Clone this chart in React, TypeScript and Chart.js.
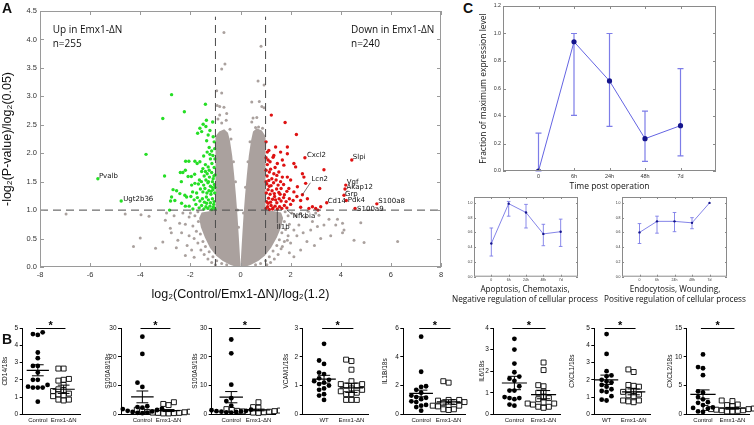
import React, { useEffect, useRef } from 'react';
import { Chart, registerables } from 'chart.js';

Chart.register(...registerables);
Chart.defaults.font.family = '"Liberation Sans", Arial, sans-serif';
Chart.defaults.color = '#222';

type Pt = [number, number];

// ================= Panel A : volcano plot =================
const A_X_TICKS = [-8, -6, -4, -2, 0, 2, 4, 6, 8];
const A_Y_TICKS = [0, 0.5, 1, 1.5, 2, 2.5, 3, 3.5, 4, 4.5];
const FC_CUT = 1;
const P_CUT = 1;
const DASH_TOP = 4.4;

// envelope of the dense, non-significant cloud
const CLOUD_LEFT: Pt[] = [
  [0, 0.02], [-0.03, 0.25], [-0.07, 0.55], [-0.12, 0.9], [-0.18, 1.25], [-0.25, 1.6], [-0.33, 1.95],
  [-0.42, 2.22], [-0.5, 2.36], [-0.65, 2.42], [-0.85, 2.38], [-1.0, 2.3], [-1.0, 1.0], [-1.25, 0.98],
  [-1.55, 0.96], [-1.65, 0.86], [-1.58, 0.7], [-1.42, 0.52], [-1.22, 0.34], [-0.98, 0.2], [-0.72, 0.11],
  [-0.42, 0.04], [-0.15, 0.0],
];
const CLOUD_RIGHT: Pt[] = [
  [0.15, 0.0], [0.42, 0.04], [0.72, 0.11], [0.98, 0.2], [1.22, 0.34], [1.45, 0.52], [1.62, 0.7],
  [1.7, 0.86], [1.62, 0.96], [1.35, 0.98], [1.0, 1.0], [1.0, 2.3], [0.85, 2.4], [0.65, 2.44],
  [0.5, 2.38], [0.42, 2.22], [0.33, 1.95], [0.25, 1.6], [0.18, 1.25], [0.12, 0.9], [0.07, 0.55],
  [0.03, 0.25], [0, 0.02],
];

const VOLCANO_GREY: Pt[] = [
  [-0.66, 4.12], [-0.62, 3.57], [-0.75, 3.48], [-0.95, 3.1], [-0.75, 3.06], [-0.93, 2.84], [-0.83, 2.82],
  [-0.66, 2.81], [-0.83, 2.67], [-0.57, 2.58], [-0.75, 2.53], [-0.42, 2.42], [-0.9, 2.6], [-0.55, 2.7],
  [0.7, 3.27], [0.94, 3.2], [0.82, 3.88], [0.45, 2.9], [0.75, 2.91], [0.85, 2.82], [0.94, 2.8],
  [0.5, 2.62], [0.65, 2.63], [0.45, 2.55], [0.6, 2.45], [0.72, 2.46], [0.88, 2.44],
  [-1.7, 0.97], [-1.82, 0.9], [-1.68, 0.8], [-1.9, 0.72], [-1.76, 0.63], [-1.6, 0.58], [-1.85, 0.5],
  [-1.5, 0.45], [-1.7, 0.42], [-1.4, 0.36], [-1.58, 0.3], [-1.25, 0.27], [-1.45, 0.22], [-1.1, 0.18],
  [-1.3, 0.14], [-0.95, 0.11], [-1.15, 0.08], [-0.75, 0.06], [-0.55, 0.04], [-1.0, 0.04],
  [-2.65, 0.9], [-2.43, 0.77], [-2.8, 0.68], [-2.76, 0.6], [-2.5, 0.47], [-2.56, 0.34], [-2.13, 0.38],
  [-2.2, 0.2], [-1.85, 0.17], [-2.05, 0.55], [-2.2, 0.75], [-2.05, 0.88], [-2.3, 0.95], [-1.95, 0.3],
  [-2.35, 0.6], [-2.0, 0.95],
  [-6.96, 0.93], [-4.6, 0.93], [-3.97, 0.92], [-3.65, 0.89], [-4.0, 0.51], [-4.27, 0.36], [-3.39, 0.33],
  [-3.1, 0.44], [-3.0, 0.82], [-2.95, 0.95],
  [-0.2, 1.5], [-0.28, 1.85], [-0.12, 1.0], [-0.08, 0.7], [0.12, 0.95], [0.2, 1.4], [0.3, 1.85],
  [0.38, 2.2], [-0.38, 2.25],
  [1.78, 0.97], [1.9, 0.9], [1.75, 0.8], [1.95, 0.75], [1.8, 0.66], [1.65, 0.6], [1.9, 0.55],
  [1.55, 0.48], [1.75, 0.45], [1.45, 0.38], [1.62, 0.32], [1.3, 0.28], [1.5, 0.22], [1.15, 0.18],
  [1.35, 0.14], [1.0, 0.11], [1.2, 0.08], [0.8, 0.06], [0.6, 0.04], [1.05, 0.04],
  [2.4, 0.94], [2.6, 0.88], [2.87, 0.8], [3.13, 0.91], [3.53, 0.84], [3.87, 0.84], [4.07, 0.77],
  [3.8, 0.74], [4.13, 0.65], [4.07, 0.6], [3.07, 0.71], [3.33, 0.74], [3.2, 0.5], [2.8, 0.65],
  [2.33, 0.74], [2.13, 0.65], [2.13, 0.18], [4.8, 0.78], [4.53, 0.47], [4.93, 0.43], [6.27, 0.45],
  [1.87, 0.47], [1.67, 0.36], [2.0, 0.42], [2.2, 0.9], [2.05, 0.95], [2.25, 0.55], [2.5, 0.6],
  [2.65, 0.45], [2.95, 0.38], [2.4, 0.3], [1.95, 0.25], [3.6, 0.55], [3.0, 0.95], [2.7, 0.98],
];

const VOLCANO_GREEN: Pt[] = [
  [-1.02, 1.02], [-1.08, 1.05], [-1.15, 1.01], [-1.22, 1.07], [-1.3, 1.03], [-1.38, 1.06], [-1.46, 1.02],
  [-1.55, 1.08], [-1.65, 1.04], [-1.78, 1.1], [-1.9, 1.02], [-2.05, 1.07], [-2.2, 1.07], [-2.35, 1.12],
  [-2.83, 1.0], [-1.05, 1.15], [-1.12, 1.2], [-1.2, 1.13], [-1.28, 1.18], [-1.36, 1.23], [-1.44, 1.14],
  [-1.52, 1.2], [-1.62, 1.16], [-1.72, 1.22], [-1.85, 1.18], [-1.98, 1.24], [-2.15, 1.23], [-2.62, 1.17],
  [-2.79, 1.16], [-2.75, 1.23], [-1.03, 1.3], [-1.1, 1.36], [-1.18, 1.28], [-1.26, 1.34], [-1.34, 1.3],
  [-1.42, 1.38], [-1.5, 1.32], [-1.6, 1.37], [-1.75, 1.3], [-1.91, 1.32], [-2.22, 1.26], [-2.42, 1.29],
  [-2.55, 1.34], [-2.69, 1.36], [-1.04, 1.45], [-1.12, 1.5], [-1.2, 1.42], [-1.3, 1.48], [-1.38, 1.53],
  [-1.47, 1.44], [-1.56, 1.5], [-1.68, 1.46], [-1.82, 1.47], [-1.95, 1.44], [-2.36, 1.5], [-1.64, 1.53],
  [-1.06, 1.6], [-1.15, 1.66], [-1.24, 1.58], [-1.33, 1.64], [-1.45, 1.6], [-1.55, 1.68], [-1.83, 1.63],
  [-1.96, 1.59], [-2.09, 1.59], [-2.3, 1.66], [-2.4, 1.66], [-2.2, 1.7], [-3.03, 1.6], [-1.05, 1.75],
  [-1.14, 1.82], [-1.29, 1.76], [-1.4, 1.8], [-1.5, 1.73], [-1.62, 1.85], [-1.73, 1.82], [-1.82, 1.86],
  [-2.06, 1.86], [-2.19, 1.86], [-1.2, 1.9], [-1.03, 2.08], [-1.15, 2.04], [-1.33, 2.02], [-1.47, 1.95],
  [-1.1, 1.96], [-1.25, 2.1], [-3.77, 1.98], [-1.05, 2.2], [-1.09, 2.29], [-1.29, 2.32], [-1.55, 2.38],
  [-1.71, 2.35], [-1.62, 2.44], [-1.49, 2.51], [-1.36, 2.58], [-1.38, 2.47], [-1.22, 2.4], [-1.11, 2.55],
  [-1.4, 2.86], [-2.24, 2.73], [-2.75, 3.03], [-3.1, 2.61], [-1.35, 2.22], [-5.69, 1.55], [-4.76, 1.16],
  [-1.07, 1.1], [-1.17, 1.33], [-1.09, 1.55], [-1.25, 1.7], [-1.13, 1.4], [-1.35, 1.12], [-1.02, 1.9],
  [-1.22, 1.98], [-1.4, 1.68], [-1.01, 1.62], [-1.28, 1.5], [-1.02, 1.4],
];

const VOLCANO_RED: Pt[] = [
  [1.02, 1.03], [1.08, 1.06], [1.15, 1.01], [1.22, 1.08], [1.3, 1.04], [1.38, 1.07], [1.47, 1.02],
  [1.56, 1.06], [1.65, 1.03], [1.75, 1.08], [1.85, 1.04], [2.0, 1.1], [2.4, 1.05], [2.73, 1.03],
  [2.87, 1.06], [3.0, 1.03], [3.09, 1.0], [3.2, 1.06], [1.04, 1.15], [1.12, 1.21], [1.2, 1.14],
  [1.28, 1.19], [1.36, 1.24], [1.45, 1.13], [1.54, 1.2], [1.62, 1.16], [1.72, 1.22], [1.82, 1.15],
  [1.95, 1.2], [2.1, 1.17], [2.4, 1.17], [2.67, 1.2], [2.25, 1.24], [1.03, 1.3], [1.1, 1.36],
  [1.18, 1.28], [1.26, 1.34], [1.35, 1.29], [1.44, 1.37], [1.53, 1.31], [1.62, 1.38], [1.75, 1.27],
  [1.85, 1.33], [1.93, 1.38], [2.13, 1.32], [3.16, 1.38], [1.05, 1.46], [1.13, 1.52], [1.22, 1.43],
  [1.32, 1.48], [1.42, 1.53], [1.5, 1.44], [1.6, 1.5], [1.72, 1.45], [2.0, 1.53], [2.27, 1.41],
  [2.6, 1.47], [1.87, 1.58], [1.06, 1.6], [1.15, 1.67], [1.2, 1.72], [1.33, 1.64], [1.45, 1.61],
  [1.53, 1.67], [1.67, 1.58], [2.47, 1.64], [2.53, 1.58], [2.2, 1.76], [3.33, 1.71], [1.07, 1.8],
  [1.18, 1.85], [1.3, 1.93], [1.47, 1.82], [1.73, 1.79], [1.67, 1.88], [2.13, 1.82], [1.33, 1.96],
  [1.87, 1.99], [1.02, 1.92], [1.13, 2.05], [1.07, 2.02], [1.4, 2.11], [1.87, 2.11], [1.6, 2.02],
  [2.23, 2.33], [1.02, 2.2], [1.78, 2.54], [1.23, 2.67], [2.57, 1.92], [4.44, 1.88], [2.47, 1.27],
  [4.2, 1.44], [4.17, 1.37], [4.13, 1.26], [3.44, 1.13], [4.22, 1.17], [5.44, 1.11], [4.57, 1.03],
  [1.1, 1.12], [1.25, 1.55], [1.02, 1.5], [1.15, 1.42], [1.38, 1.75], [1.02, 1.7], [1.28, 1.02],
  [1.4, 1.18], [1.58, 1.28], [1.1, 1.88],
];

const GENE_NAMES = ['Pvalb', 'Ugt2b36', 'Cxcl2', 'Slpi', 'Lcn2', 'Vgf', 'Akap12', 'Grp', 'Cd14', 'Pdk4', 'S100a8', 'S100a9', 'Nfkbia', 'Il1b'];
const GENE_X = [-5.69, -4.76, 2.57, 4.44, 2.47, 4.2, 4.17, 4.13, 3.44, 4.22, 5.44, 4.57, 1.85, 1.47];
const GENE_Y = [1.55, 1.16, 1.92, 1.88, 1.27, 1.44, 1.37, 1.26, 1.13, 1.17, 1.11, 1.03, 1.0, 1.0];

// ================= Panel C : time course =================
const TIME_LABELS = ['0', '6h', '24h', '48h', '7d'];
const C_MAIN_YTICKS = [0, 0.2, 0.4, 0.6, 0.8, 1.0, 1.2];
const C_SMALL_YTICKS = [0, 0.2, 0.4, 0.6, 0.8, 1.0];
const C_MAIN_MEAN = [0.0, 0.94, 0.655, 0.235, 0.33];
const C_MAIN_LOW = [0.0, 0.405, 0.325, 0.07, 0.11];
const C_MAIN_HIGH = [0.275, 1.0, 1.0, 0.435, 0.745];
const C_LEFT_MEAN = [0.45, 0.99, 0.87, 0.58, 0.61];
const C_LEFT_LOW = [0.28, 0.82, 0.66, 0.42, 0.41];
const C_LEFT_HIGH = [0.66, 1.02, 0.98, 0.71, 0.78];
const C_RIGHT_MEAN = [0.6, 0.75, 0.75, 0.73, 1.0];
const C_RIGHT_LOW = [0.45, 0.59, 0.61, 0.65, 1.0];
const C_RIGHT_HIGH = [0.72, 0.82, 0.87, 0.8, 1.0];

// ================= Panel B : qPCR dot plots =================
const B_TITLES = ['CD14/18s', 'S100A8/18s', 'S100A9/18s', 'VCAM1/18s', 'IL1B/18s', 'IL6/18s', 'CXCL1/18s', 'CXCL2/18s'];
const B_GROUP_A = ['Control', 'Control', 'Control', 'WT', 'Control', 'Control', 'WT', 'Control'];
const B_GROUP_B = ['Emx1-ΔN', 'Emx1-ΔN', 'Emx1-ΔN', 'Emx1-ΔN', 'Emx1-ΔN', 'Emx1-ΔN', 'Emx1-ΔN', 'Emx1-ΔN'];
const B_YTICKS = [
  [0, 1, 2, 3, 4, 5], [0, 10, 20, 30], [0, 10, 20, 30], [0, 1, 2, 3],
  [0, 2, 4, 6], [0, 1, 2, 3, 4], [0, 1, 2, 3, 4, 5], [0, 5, 10, 15],
];
const CD14_CTRL = [4.75, 4.65, 4.6, 3.58, 3.25, 2.8, 2.8, 2.42, 2.0, 2.0, 1.7, 1.6, 1.55, 1.55, 1.55, 0.73];
const CD14_EMX = [2.65, 2.65, 2.05, 2.0, 1.95, 1.7, 1.45, 1.4, 1.35, 1.2, 1.15, 1.1, 1.05, 0.85, 0.85, 0.8];
const S100A8_CTRL = [27.0, 21.0, 11.0, 9.5, 2.8, 2.5, 2.3, 2.0, 1.8, 1.5, 1.2, 1.0, 0.8, 0.6, 0.5, 0.4];
const S100A8_EMX = [4.2, 3.6, 3.2, 2.0, 1.6, 1.3, 1.1, 0.9, 0.8, 0.7, 0.6, 0.5, 0.5, 0.4, 0.3, 0.3];
const S100A9_CTRL = [26.0, 21.2, 10.3, 5.6, 4.6, 3.0, 2.0, 1.6, 1.4, 1.2, 1.1, 1.0, 0.9, 0.8, 0.7, 0.6];
const S100A9_EMX = [4.2, 2.5, 2.3, 2.0, 1.8, 1.6, 1.5, 1.3, 1.2, 1.1, 1.0, 0.9, 0.8, 0.7, 0.6, 0.5];
const VCAM1_WT = [2.45, 1.87, 1.75, 1.45, 1.4, 1.25, 1.2, 1.15, 1.1, 1.05, 1.0, 0.9, 0.85, 0.7, 0.65, 0.5];
const VCAM1_EMX = [1.9, 1.85, 1.55, 1.15, 1.05, 1.05, 1.0, 1.0, 0.9, 0.85, 0.8, 0.75, 0.7, 0.7, 0.5, 0.5, 0.5];
const IL1B_CTRL = [5.4, 2.96, 1.95, 1.9, 1.7, 1.5, 1.3, 1.2, 1.15, 1.05, 0.9, 0.85, 0.65, 0.6, 0.5, 0.25];
const IL1B_EMX = [2.3, 2.2, 1.0, 1.0, 0.95, 0.85, 0.85, 0.8, 0.65, 0.6, 0.6, 0.55, 0.35, 0.35, 0.3];
const IL6_CTRL = [3.5, 3.0, 2.35, 1.95, 1.75, 1.65, 1.55, 1.3, 1.1, 1.1, 0.8, 0.75, 0.75, 0.7, 0.45, 0.4];
const IL6_EMX = [2.4, 2.05, 1.35, 1.3, 1.05, 1.0, 0.8, 0.75, 0.7, 0.55, 0.5, 0.5, 0.45, 0.35, 0.35, 0.3];
const CXCL1_WT = [4.65, 3.5, 2.5, 2.25, 2.2, 2.0, 1.9, 1.85, 1.7, 1.6, 1.45, 1.35, 1.3, 1.05, 0.85, 0.8];
const CXCL1_EMX = [2.6, 2.45, 1.7, 1.65, 1.6, 1.4, 1.35, 1.3, 1.15, 1.1, 1.05, 0.8, 0.8, 0.75, 0.7];
const CXCL2_CTRL = [10.4, 8.2, 8.0, 6.8, 4.0, 3.8, 3.0, 2.6, 2.1, 2.0, 1.6, 1.2, 1.1, 1.0, 0.5, 0.4];
const CXCL2_EMX = [2.4, 2.3, 1.7, 1.6, 1.4, 1.2, 1.1, 1.0, 0.9, 0.9, 0.8, 0.7, 0.7, 0.6, 0.5, 0.5];
const B_MEAN_A = [2.55, 6.05, 5.95, 1.22, 1.45, 1.45, 2.0, 3.47];
const B_SEM_A = [0.32, 2.05, 1.95, 0.135, 0.23, 0.31, 0.27, 0.77];
const B_MEAN_B = [1.45, 1.3, 1.5, 0.92, 0.86, 0.91, 1.3, 1.05];
const B_SEM_B = [0.24, 0.35, 0.3, 0.16, 0.15, 0.19, 0.17, 0.15];

const B_VALUES_A = [CD14_CTRL, S100A8_CTRL, S100A9_CTRL, VCAM1_WT, IL1B_CTRL, IL6_CTRL, CXCL1_WT, CXCL2_CTRL];
const B_VALUES_B = [CD14_EMX, S100A8_EMX, S100A9_EMX, VCAM1_EMX, IL1B_EMX, IL6_EMX, CXCL1_EMX, CXCL2_EMX];

// ================= layout / style (not data) =================
const GREY = 'rgb(170,161,158)';
const GREEN = 'rgb(38,222,38)';
const RED = 'rgb(222,18,18)';
const C_LINE = '#6464e2';
const C_ERR = '#7d7de8';
const C_MARK = '#15158c';

// per-label text offsets in px: [dx, dy, leaderDx, leaderDy]
const LABEL_OFFSETS: Record<string, number[]> = {
  Pvalb: [1, -3], Ugt2b36: [2, -2], Cxcl2: [2, -3], Slpi: [1, -3], Lcn2: [9, -16, 8, -12],
  Vgf: [1, -3], Akap12: [1.5, -2], Grp: [1, -1], Cd14: [1, -2], Pdk4: [1.5, 0],
  S100a8: [1.5, -2.5], S100a9: [2, 1], Nfkbia: [6, 6, 5, 4], Il1b: [-0.6, 17, 0, 13],
};

// B layout: y-axis x, category centres, y-title centre
const B_LAYOUT = [
  { axis: 22.7, c0: 38.3, c1: 65, title: 5 },
  { axis: 121, c0: 143, c1: 170, title: 108 },
  { axis: 211.7, c0: 231.7, c1: 259.5, title: 195 },
  { axis: 302.7, c0: 324.5, c1: 352.5, title: 285.5 },
  { axis: 403.3, c0: 421.7, c1: 450, title: 385 },
  { axis: 493.3, c0: 515, c1: 545, title: 481.5 },
  { axis: 594.3, c0: 607, c1: 635, title: 571.5 },
  { axis: 686.7, c0: 703.3, c1: 733.3, title: 670 },
];

// ================= helpers =================
const xy = (a: Pt[]) => a.map(([x, y]) => ({ x, y }));

function fixedSize(size: number, horizontal: boolean) {
  return (s: any) => {
    if (horizontal) s.height = size; else s.width = size;
    s.paddingLeft = 0; s.paddingRight = 0; s.paddingTop = 0; s.paddingBottom = 0;
  };
}
function explicitTicks(values: number[]) {
  return (s: any) => { s.ticks = values.map((v) => ({ value: v })); };
}

function framePlugin(color: string, len: number) {
  return {
    id: 'frame',
    afterDatasetsDraw(chart: any) {
      const { ctx, chartArea: a, scales } = chart;
      const xs = scales.x, ys = scales.y;
      ctx.save();
      ctx.strokeStyle = color;
      ctx.lineWidth = 1;
      ctx.strokeRect(a.left + 0.5, a.top + 0.5, a.right - a.left - 1, a.bottom - a.top - 1);
      ctx.beginPath();
      for (const t of xs.ticks) {
        const p = Math.round(xs.getPixelForValue(t.value)) + 0.5;
        ctx.moveTo(p, a.bottom); ctx.lineTo(p, a.bottom - len);
        ctx.moveTo(p, a.top); ctx.lineTo(p, a.top + len);
      }
      for (const t of ys.ticks) {
        const p = Math.round(ys.getPixelForValue(t.value)) + 0.5;
        ctx.moveTo(a.left, p); ctx.lineTo(a.left + len, p);
        ctx.moveTo(a.right, p); ctx.lineTo(a.right - len, p);
      }
      ctx.stroke();
      ctx.restore();
    },
  };
}

// fills data-space polygons (the dense cloud) through the chart's scales
function cloudPlugin(polys: Pt[][], color: string) {
  return {
    id: 'cloud',
    beforeDatasetsDraw(chart: any) {
      const { ctx, chartArea: a } = chart;
      const sx = chart.scales.x, sy = chart.scales.y;
      ctx.save();
      ctx.beginPath();
      ctx.rect(a.left, a.top, a.right - a.left, a.bottom - a.top);
      ctx.clip();
      ctx.fillStyle = color;
      for (const poly of polys) {
        ctx.beginPath();
        poly.forEach(([x, y], k) => {
          const px = sx.getPixelForValue(x), py = sy.getPixelForValue(y);
          if (k === 0) ctx.moveTo(px, py); else ctx.lineTo(px, py);
        });
        ctx.closePath();
        ctx.fill();
      }
      ctx.restore();
    },
  };
}

function errorBarPlugin(xs: number[], lo: number[], hi: number[], color: string, width: number, capPx: number, under: boolean) {
  const draw = (chart: any) => {
    const { ctx } = chart;
    const sx = chart.scales.x, sy = chart.scales.y;
    ctx.save();
    ctx.strokeStyle = color;
    ctx.lineWidth = width;
    ctx.beginPath();
    xs.forEach((x, i) => {
      const px = sx.getPixelForValue(x);
      const p1 = sy.getPixelForValue(lo[i]);
      const p2 = sy.getPixelForValue(hi[i]);
      if (Math.abs(p1 - p2) < 0.5) return;
      ctx.moveTo(px, p1); ctx.lineTo(px, p2);
      ctx.moveTo(px - capPx, p1); ctx.lineTo(px + capPx, p1);
      ctx.moveTo(px - capPx, p2); ctx.lineTo(px + capPx, p2);
    });
    ctx.stroke();
    ctx.restore();
  };
  return {
    id: 'errbars',
    beforeDatasetsDraw(c: any) { if (under) draw(c); },
    afterDatasetsDraw(c: any) { if (!under) draw(c); },
  };
}

function geneLabelPlugin() {
  return {
    id: 'genelabels',
    afterDatasetsDraw(chart: any) {
      const { ctx } = chart;
      const sx = chart.scales.x, sy = chart.scales.y;
      ctx.save();
      ctx.font = '7px "DejaVu Sans"';
      ctx.fillStyle = '#111';
      ctx.strokeStyle = '#222';
      ctx.lineWidth = 0.6;
      ctx.textBaseline = 'middle';
      ctx.textAlign = 'left';
      GENE_NAMES.forEach((name, i) => {
        const px = sx.getPixelForValue(GENE_X[i]);
        const py = sy.getPixelForValue(GENE_Y[i]);
        const o = LABEL_OFFSETS[name] || [2, -3];
        if (o.length > 2) {
          ctx.beginPath(); ctx.moveTo(px, py); ctx.lineTo(px + o[2], py + o[3]); ctx.stroke();
        }
        ctx.fillText(name, px + o[0], py + o[1]);
      });
      ctx.restore();
    },
  };
}

function sigPlugin(top: number) {
  return {
    id: 'sig',
    afterDraw(chart: any) {
      const { ctx } = chart;
      const sx = chart.scales.x, sy = chart.scales.y;
      const y = Math.round(sy.getPixelForValue(top)) + 0.5;
      const x0 = sx.getPixelForValue(-0.07), x1 = sx.getPixelForValue(1.07);
      ctx.save();
      ctx.strokeStyle = '#000';
      ctx.lineWidth = 1;
      ctx.beginPath(); ctx.moveTo(x0, y); ctx.lineTo(x1, y); ctx.stroke();
      ctx.fillStyle = '#000';
      ctx.font = 'bold 11px "Liberation Sans"';
      ctx.textAlign = 'center';
      ctx.textBaseline = 'alphabetic';
      ctx.fillText('*', (x0 + x1) / 2, y + 0.5);
      ctx.restore();
    },
  };
}

// deterministic beeswarm placement of a column of values
function swarm(values: number[], center: number, ppuX: number, ppuY: number, d: number) {
  const order = values.map((_, i) => i).sort((a, b) => values[a] - values[b]);
  const placed: { x: number; y: number }[] = [];
  const out: { x: number; y: number }[] = new Array(values.length);
  const step = d * 1.05;
  for (const i of order) {
    const ypx = values[i] * ppuY;
    let chosen = 0;
    for (let k = 0; k < 14; k++) {
      const off = k === 0 ? 0 : (k % 2 === 1 ? -1 : 1) * Math.ceil(k / 2) * step;
      if (placed.every((p) => (p.x - off) ** 2 + (p.y - ypx) ** 2 >= d * d * 0.92)) { chosen = off; break; }
    }
    placed.push({ x: chosen, y: ypx });
    out[i] = { x: center + chosen / ppuX, y: values[i] };
  }
  return out;
}

const baseOptions = (padding: any, scales: any) => ({
  responsive: false,
  maintainAspectRatio: false,
  animation: false,
  events: [],
  layout: { padding },
  plugins: { legend: { display: false }, tooltip: { enabled: false } },
  scales,
});

// ================= chart configs =================
function volcanoConfig() {
  const dash = { borderColor: '#4a4a4a', borderWidth: 1, borderDash: [8, 5], pointRadius: 0, fill: false };
  return {
    type: 'scatter',
    data: {
      datasets: [
        { type: 'line', data: [{ x: A_X_TICKS[0], y: P_CUT }, { x: A_X_TICKS[A_X_TICKS.length - 1], y: P_CUT }], ...dash },
        { type: 'line', data: [{ x: -FC_CUT, y: 0 }, { x: -FC_CUT, y: DASH_TOP }], ...dash },
        { type: 'line', data: [{ x: FC_CUT, y: 0 }, { x: FC_CUT, y: DASH_TOP }], ...dash },
        { data: xy(VOLCANO_RED), backgroundColor: RED, pointRadius: 1.7, borderWidth: 0 },
        { data: xy(VOLCANO_GREEN), backgroundColor: GREEN, pointRadius: 1.7, borderWidth: 0 },
        { data: xy(VOLCANO_GREY), backgroundColor: GREY, pointRadius: 1.5, borderWidth: 0 },
      ],
    },
    options: baseOptions({ left: 0, top: 11, right: 9, bottom: 0 }, {
      x: {
        type: 'linear', min: A_X_TICKS[0], max: A_X_TICKS[A_X_TICKS.length - 1],
        afterBuildTicks: explicitTicks(A_X_TICKS), afterFit: fixedSize(35, true),
        grid: { display: false, drawTicks: false }, border: { display: false },
        ticks: { font: { size: 7.5 }, color: '#333', padding: 3, autoSkip: false, maxRotation: 0 },
        title: { display: true, text: 'log₂(Control/Emx1-ΔN)/log₂(1.2)', font: { size: 12.5 }, color: '#111', padding: { top: 0, bottom: 0 } },
      },
      y: {
        type: 'linear', min: A_Y_TICKS[0], max: A_Y_TICKS[A_Y_TICKS.length - 1],
        afterBuildTicks: explicitTicks(A_Y_TICKS), afterFit: fixedSize(40, false),
        grid: { display: false, drawTicks: false }, border: { display: false },
        ticks: { font: { size: 7.5 }, color: '#333', padding: 3, callback: (v: any) => Number(v).toFixed(1) },
        title: { display: true, text: '-log₂(P-value)/log₂(0.05)', font: { size: 12.5 }, color: '#111', padding: { top: 0, bottom: 0 } },
      },
    }),
    plugins: [cloudPlugin([CLOUD_LEFT, CLOUD_RIGHT], GREY), framePlugin('#9a9a9a', 4), geneLabelPlugin()],
  };
}

function timeConfig(mean: number[], lo: number[], hi: number[], yTicks: number[], yMax: number, small: boolean, pad: any, yw: number, xh: number) {
  const idx = TIME_LABELS.map((_, i) => i);
  return {
    type: 'line',
    data: {
      datasets: [{
        data: idx.map((i) => ({ x: i, y: mean[i] })),
        borderColor: C_LINE, borderWidth: small ? 0.8 : 1, tension: 0,
        pointRadius: small ? 1.2 : 2.6, pointBackgroundColor: C_MARK, pointBorderWidth: 0, fill: false,
      }],
    },
    options: baseOptions(pad, {
      x: {
        type: 'linear', min: -1, max: TIME_LABELS.length,
        afterBuildTicks: explicitTicks(idx), afterFit: fixedSize(xh, true),
        grid: { display: false, drawTicks: false }, border: { display: false },
        ticks: { font: { size: small ? 3.5 : 5.5 }, color: '#333', padding: small ? 1.5 : 2.5, autoSkip: false, maxRotation: 0, callback: (v: any) => TIME_LABELS[v] ?? '' },
        title: small ? { display: false } : { display: true, text: 'Time post operation', font: { family: '"Open Sans"', size: 8.5 }, color: '#111', padding: { top: 0, bottom: 0 } },
      },
      y: {
        type: 'linear', min: 0, max: yMax,
        afterBuildTicks: explicitTicks(yTicks), afterFit: fixedSize(yw, false),
        grid: { display: false, drawTicks: false }, border: { display: false },
        ticks: { font: { size: small ? 3.5 : 5.3 }, color: '#333', padding: small ? 1.5 : 2, callback: (v: any) => Number(v).toFixed(1) },
        title: small ? { display: false } : { display: true, text: 'Fraction of maximum expression level', font: { family: '"Open Sans"', size: 8.5 }, color: '#111', padding: { top: 2, bottom: 0 } },
      },
    }),
    plugins: [
      framePlugin('#8a8a8a', small ? 2 : 3),
      errorBarPlugin(idx, lo, hi, C_ERR, small ? 0.9 : 1.2, small ? 1.8 : 3, true),
    ],
  };
}

const B_TOP = 312, B_H = 113, B_PLOT_TOP = 328, B_AXIS_Y = 414.3;
const B_FONT = 6.5;
const B_CAT_FONT = 6.0;

function bBox(i: number) {
  const L = B_LAYOUT[i];
  const left = Math.round(L.title - (B_FONT * 1.2) / 2);
  const pw = L.c1 - L.axis + 17;
  const yw = L.axis - left;
  return { left, top: B_TOP, width: Math.ceil(yw + pw + 3), height: B_H, yw, pw };
}

function bConfig(i: number) {
  const L = B_LAYOUT[i];
  const box = bBox(i);
  const ppu = L.c1 - L.c0;
  const xmin = -(L.c0 - L.axis) / ppu;
  const xmax = xmin + box.pw / ppu;
  const ticks = B_YTICKS[i];
  const ymax = ticks[ticks.length - 1];
  const ppuY = (B_AXIS_Y - B_PLOT_TOP) / ymax;
  const ptsA = swarm(B_VALUES_A[i], 0, ppu, ppuY, 4.8);
  const ptsB = swarm(B_VALUES_B[i], 1, ppu, ppuY, 5.2);
  const hw = 0.43;
  const meanLine = (c: number, m: number) => ({
    type: 'line', data: [{ x: c - hw, y: m }, { x: c + hw, y: m }],
    borderColor: '#000', borderWidth: 1.2, pointRadius: 0, fill: false,
  });
  return {
    type: 'scatter',
    data: {
      datasets: [
        meanLine(0, B_MEAN_A[i]),
        meanLine(1, B_MEAN_B[i]),
        { data: ptsA, backgroundColor: '#000', borderWidth: 0, pointRadius: 2.4, clip: false },
        { data: ptsB, pointStyle: 'rect', backgroundColor: '#fff', borderColor: '#000', borderWidth: 0.9, pointRadius: 3.5, clip: false },
      ],
    },
    options: baseOptions({ left: 0, top: B_PLOT_TOP - B_TOP, right: box.width - box.yw - box.pw, bottom: 0 }, {
      x: {
        type: 'linear', min: xmin, max: xmax,
        afterBuildTicks: explicitTicks([0, 1]), afterFit: fixedSize(B_TOP + B_H - B_AXIS_Y, true),
        grid: { display: false, drawTicks: false }, border: { display: true, color: '#000', width: 1 },
        ticks: { font: { size: B_CAT_FONT }, color: '#111', padding: 2.5, autoSkip: false, maxRotation: 0, callback: (v: any) => (v === 0 ? B_GROUP_A[i] : B_GROUP_B[i]) },
      },
      y: {
        type: 'linear', min: 0, max: ymax,
        afterBuildTicks: explicitTicks(ticks), afterFit: fixedSize(box.yw, false),
        grid: { display: true, drawOnChartArea: false, drawTicks: true, tickLength: 3, color: '#000', lineWidth: 1 },
        border: { display: true, color: '#000', width: 1 },
        ticks: { font: { size: B_FONT }, color: '#111', padding: 1.5 },
        title: { display: true, text: B_TITLES[i], font: { size: B_FONT }, color: '#111', padding: { top: 0, bottom: 0 } },
      },
    }),
    plugins: [
      errorBarPlugin([0, 1], [B_MEAN_A[i] - B_SEM_A[i], B_MEAN_B[i] - B_SEM_B[i]], [B_MEAN_A[i] + B_SEM_A[i], B_MEAN_B[i] + B_SEM_B[i]], '#000', 1, 0.22 * ppu, false),
      sigPlugin(ymax),
    ],
  };
}

// ================= components =================
function ChartCanvas({ left, top, width, height, make }: any) {
  const ref = useRef<HTMLCanvasElement>(null);
  useEffect(() => {
    const chart = new Chart(ref.current as HTMLCanvasElement, make());
    return () => chart.destroy();
  }, []);
  return (
    <canvas
      ref={ref}
      width={width}
      height={height}
      style={{ position: 'absolute', left, top, width, height }}
    />
  );
}

function Label({ x, y, size, children, family = '"Open Sans"', weight = 400, align = 'left', w = 200 }: any) {
  const left = align === 'center' ? x - w / 2 : x;
  return (
    <div
      style={{
        position: 'absolute', left, top: y, width: align === 'center' ? w : undefined,
        fontFamily: family, fontSize: size, fontWeight: weight, lineHeight: 1,
        whiteSpace: 'nowrap', textAlign: align, color: '#111',
      }}
    >
      {children}
    </div>
  );
}

export default function App() {
  return (
    <div style={{ position: 'fixed', left: 0, top: 0, width: 754, height: 425, background: '#fff', overflow: 'hidden' }}>
      <ChartCanvas left={0} top={0} width={450} height={302} make={volcanoConfig} />
      <ChartCanvas
        left={476} top={0} width={250} height={192}
        make={() => timeConfig(C_MAIN_MEAN, C_MAIN_LOW, C_MAIN_HIGH, C_MAIN_YTICKS, 1.2, false, { left: 0, top: 6, right: 10, bottom: 0 }, 27, 21)}
      />
      <ChartCanvas
        left={462} top={190} width={125} height={96}
        make={() => timeConfig(C_LEFT_MEAN, C_LEFT_LOW, C_LEFT_HIGH, C_SMALL_YTICKS, 1.08, true, { left: 0, top: 7, right: 9, bottom: 0 }, 12, 9.3)}
      />
      <ChartCanvas
        left={610} top={190} width={130} height={96}
        make={() => timeConfig(C_RIGHT_MEAN, C_RIGHT_LOW, C_RIGHT_HIGH, C_SMALL_YTICKS, 1.08, true, { left: 0, top: 7, right: 13, bottom: 0 }, 12, 9.3)}
      />
      {B_TITLES.map((_, i) => {
        const b = bBox(i);
        return <ChartCanvas key={i} left={b.left} top={b.top} width={b.width} height={b.height} make={() => bConfig(i)} />;
      })}

      <Label x={2} y={1.2} size={14} family='"Liberation Sans"' weight={700}>A</Label>
      <Label x={2} y={332.2} size={14} family='"Liberation Sans"' weight={700}>B</Label>
      <Label x={463} y={0.9} size={14} family='"Liberation Sans"' weight={700}>C</Label>

      <Label x={52.7} y={24.4} size={10}>Up in Emx1-ΔN</Label>
      <Label x={52.7} y={37.8} size={10}>n=255</Label>
      <Label x={351} y={24.4} size={10}>Down in Emx1-ΔN</Label>
      <Label x={351} y={37.8} size={10}>n=240</Label>

      <Label x={525} y={284.5} size={8.2} align="center">Apoptosis, Chemotaxis,</Label>
      <Label x={525} y={294.5} size={8.2} align="center">Negative regulation of cellular process</Label>
      <Label x={675} y={284.5} size={8.2} align="center">Endocytosis, Wounding,</Label>
      <Label x={675} y={294.5} size={8.2} align="center">Positive regulation of cellular process</Label>
    </div>
  );
}
